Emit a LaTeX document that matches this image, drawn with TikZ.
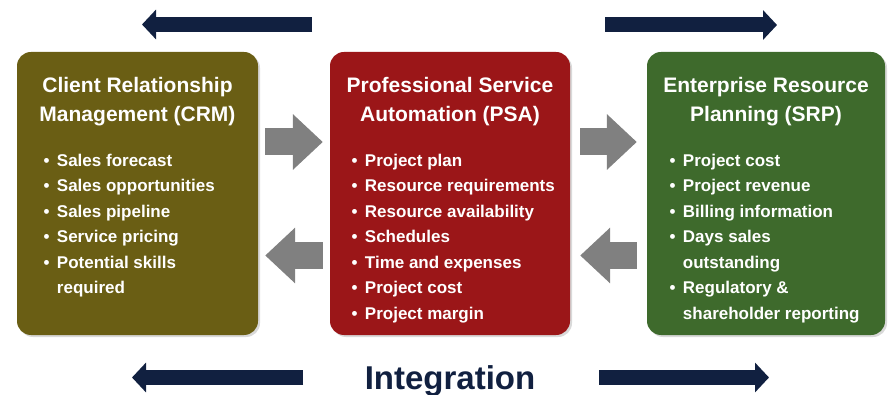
\documentclass[tikz,border=0pt]{standalone}
\usepackage{fontspec}
\setmainfont{Liberation Sans}
\usetikzlibrary{positioning,arrows.meta,shadows}

\definecolor{crmolive}{RGB}{106,94,20}
\definecolor{psared}{RGB}{155,22,24}
\definecolor{erpgreen}{RGB}{62,106,44}
\definecolor{navy}{RGB}{17,32,64}
\definecolor{flowgrey}{RGB}{128,128,128}

\tikzset{
    panel/.style = {rectangle, rounded corners = 14pt, minimum height = 283pt, drop shadow = {opacity = 0.3, shadow xshift = 2pt, shadow yshift = -2pt}},
    heading/.style = {text = white, align = center, inner sep = 0pt, font = \bfseries\fontsize{21}{29}\selectfont},
    items/.style = {text = white, inner sep = 0pt, font = \bfseries\fontsize{17}{25.5}\selectfont},
    flow/.style = {flowgrey, line width = 27pt, -{Triangle[length = 30pt, width = 54pt]}},
    link/.style = {navy, line width = 15pt, -{Triangle[length = 14pt, width = 29pt]}}
}

\begin{document}
\begin{tikzpicture}[x = 1pt, y = -1pt]
        \useasboundingbox (0,0) rectangle (888,395) ;

        % the three systems
        \node [panel, fill = crmolive, minimum width = 241pt] (crm) at (137.5,193.5) {} ;
        \node [panel, fill = psared, minimum width = 240pt] (psa) at (450,193.5) {} ;
        \node [panel, fill = erpgreen, minimum width = 238pt] (erp) at (766,193.5) {} ;

        \node [heading, below = 25.5pt of crm.north] (crmtitle) {Client Relationship\\Management (CRM)} ;
        \node [heading, below = 25.5pt of psa.north] (psatitle) {Professional Service\\Automation (PSA)} ;
        \node [heading, below = 25.5pt of erp.north] (erptitle) {Enterprise Resource\\Planning (SRP)} ;

        \node [items, below right = 96.5pt and 26.5pt of crm.north west] (crmlist) {%
            \begin{tabular}[t]{@{}l@{\hspace{7.5pt}}l@{}}
                \textbullet & Sales forecast \\
                \textbullet & Sales opportunities \\
                \textbullet & Sales pipeline \\
                \textbullet & Service pricing \\
                \textbullet & Potential skills \\
                            & required
            \end{tabular}} ;
        \node [items, below right = 96.5pt and 21.5pt of psa.north west] (psalist) {%
            \begin{tabular}[t]{@{}l@{\hspace{7.5pt}}l@{}}
                \textbullet & Project plan \\
                \textbullet & Resource requirements \\
                \textbullet & Resource availability \\
                \textbullet & Schedules \\
                \textbullet & Time and expenses \\
                \textbullet & Project cost \\
                \textbullet & Project margin
            \end{tabular}} ;
        \node [items, below right = 96.5pt and 22.5pt of erp.north west] (erplist) {%
            \begin{tabular}[t]{@{}l@{\hspace{7.5pt}}l@{}}
                \textbullet & Project cost \\
                \textbullet & Project revenue \\
                \textbullet & Billing information \\
                \textbullet & Days sales \\
                            & outstanding \\
                \textbullet & Regulatory \& \\
                            & shareholder reporting
            \end{tabular}} ;

        % grey flow arrows between the panels
        \draw [flow] ([xshift = 7pt, yshift = 51.5pt] crm.east) -- ([xshift = -7pt, yshift = 51.5pt] psa.west) ;
        \draw [flow] ([xshift = -7pt, yshift = -62pt] psa.west) -- ([xshift = 7pt, yshift = -62pt] crm.east) ;
        \draw [flow] ([xshift = 10pt, yshift = 51.5pt] psa.east) -- ([xshift = -10pt, yshift = 51.5pt] erp.west) ;
        \draw [flow] ([xshift = -10pt, yshift = -62pt] erp.west) -- ([xshift = 10pt, yshift = -62pt] psa.east) ;

        % navy integration arrows
        \coordinate (topback) at (312,24.5) ;
        \coordinate (topbacktip) at (142,24.5) ;
        \coordinate (topfwd) at (605,25) ;
        \coordinate (topfwdtip) at (777,25) ;
        \coordinate (lowback) at (303,377.5) ;
        \coordinate (lowbacktip) at (132,377.5) ;
        \coordinate (lowfwd) at (599,377.5) ;
        \coordinate (lowfwdtip) at (769,377.5) ;
        \draw [link] (topback) -- (topbacktip) ;
        \draw [link] (topfwd) -- (topfwdtip) ;
        \draw [link] (lowback) -- (lowbacktip) ;
        \draw [link] (lowfwd) -- (lowfwdtip) ;

        \node [text = navy, inner sep = 0pt, anchor = base, font = \bfseries\fontsize{33}{33}\selectfont] (integration) at (450,389) {Integration} ;
\end{tikzpicture}
\end{document}
